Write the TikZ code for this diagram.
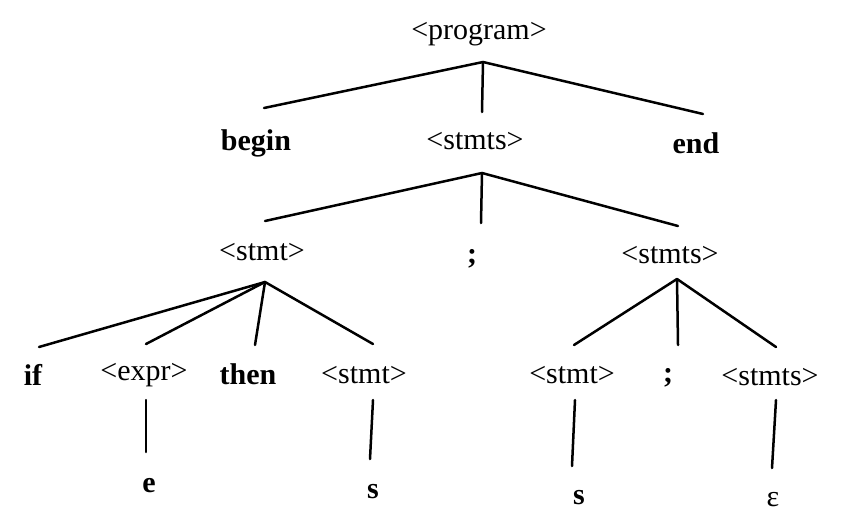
\documentclass[tikz,border=0pt]{standalone}
\usepackage{fontspec}
\setmainfont{Liberation Serif}
\begin{document}
\begin{tikzpicture}[x=1pt,y=-1pt,
  nt/.style={font=\fontsize{30}{33}\selectfont, anchor=base, inner sep=0pt},
  tm/.style={font=\fontsize{30}{33}\selectfont\bfseries, anchor=base, inner sep=0pt},
  edge/.style={line width=2.5pt, line cap=round}]
\useasboundingbox (0,0) rectangle (850,522);
% nodes
\node[nt] (prog) at (479,39) {<program>};
\node[tm] (begin) at (256,150) {begin};
\node[nt] (stmtsA) at (475,149) {<stmts>};
\node[tm] (end) at (696,153) {end};
\node[nt] (stmtA) at (262,260) {<stmt>};
\node[tm] (semiA) at (472,263) {;};
\node[nt] (stmtsB) at (670,263) {<stmts>};
\node[tm] (if) at (33,385) {if};
\node[nt] (expr) at (144,380) {<expr>};
\node[tm] (then) at (248,384) {then};
\node[nt] (stmtB) at (364,383) {<stmt>};
\node[nt] (stmtC) at (572,383) {<stmt>};
\node[tm] (semiB) at (668,382) {;};
\node[nt] (stmtsC) at (770,385) {<stmts>};
\node[tm] (e) at (149,492) {e};
\node[tm] (s1) at (373,498) {s};
\node[tm] (s2) at (579,504) {s};
\node[nt] (eps) at (773,506) {ε};
% edge end points
\coordinate (progA) at (483,62);
\coordinate (beginT) at (264,108);
\coordinate (stmtsAT) at (482,112);
\coordinate (endT) at (703,114);
\coordinate (stmtsAA) at (482,173);
\coordinate (stmtAT) at (265,221);
\coordinate (semiAT) at (481,223);
\coordinate (stmtsBT) at (678,226);
\coordinate (stmtAA) at (265,282);
\coordinate (ifT) at (39,347);
\coordinate (exprT) at (146,344);
\coordinate (thenT) at (255,345);
\coordinate (stmtBT) at (373,344);
\coordinate (stmtsBA) at (677,279);
\coordinate (stmtCT) at (574,345);
\coordinate (semiBT) at (678,345);
\coordinate (stmtsCT) at (776,347);
\coordinate (exprA) at (146,400);
\coordinate (eT) at (146,452);
\coordinate (stmtBA) at (373,400);
\coordinate (s1T) at (370,459);
\coordinate (stmtCA) at (575,400);
\coordinate (s2T) at (572,466);
\coordinate (stmtsCA) at (776,400);
\coordinate (epsT) at (772,468);
% edges
\draw[edge] (progA) -- (beginT);
\draw[edge] (progA) -- (stmtsAT);
\draw[edge] (progA) -- (endT);
\draw[edge] (stmtsAA) -- (stmtAT);
\draw[edge] (stmtsAA) -- (semiAT);
\draw[edge] (stmtsAA) -- (stmtsBT);
\draw[edge] (stmtAA) -- (ifT);
\draw[edge] (stmtAA) -- (exprT);
\draw[edge] (stmtAA) -- (thenT);
\draw[edge] (stmtAA) -- (stmtBT);
\draw[edge] (stmtsBA) -- (stmtCT);
\draw[edge] (stmtsBA) -- (semiBT);
\draw[edge] (stmtsBA) -- (stmtsCT);
\draw[edge] (exprA) -- (eT);
\draw[edge] (stmtBA) -- (s1T);
\draw[edge] (stmtCA) -- (s2T);
\draw[edge] (stmtsCA) -- (epsT);
\end{tikzpicture}
\end{document}
